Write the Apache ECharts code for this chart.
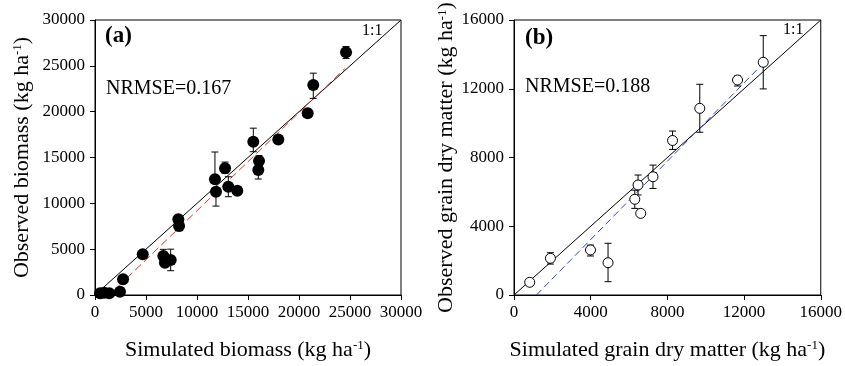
<!DOCTYPE html>
<html>
<head>
<meta charset="utf-8">
<script src="https://cdn.jsdelivr.net/npm/echarts@6/dist/echarts.min.js"></script>
<style>
  html, body { margin: 0; padding: 0; background: #fff; }
  #chart { width: 845px; height: 366px; }
</style>
</head>
<body>
<div id="chart"></div>
<script>
// panel (a): biomass
const simA = [500, 900, 1400, 2450, 2750, 4680, 6700, 6860, 7420, 8170, 8240, 11760, 11860, 12750, 13070, 13950, 15520, 16080, 16010, 17970, 20850, 21400, 24610];
const obsA = [200, 250, 200, 360, 1710, 4440, 4250, 3520, 3820, 8260, 7530, 12620, 11270, 13820, 11810, 11380, 16720, 14620, 13640, 16960, 19820, 22910, 26480];
// error bars (a): [sim, low, high]
const errA = [
  [4680, 4150, 4750],
  [6700, 4250, 4980],
  [7420, 2650, 5000],
  [8170, 8260, 8620],
  [8240, 7010, 7530],
  [11760, 12620, 15600],
  [11860, 9700, 11270],
  [12750, 13280, 14500],
  [13070, 10720, 12900],
  [15520, 15630, 18200],
  [16080, 14620, 15200],
  [16010, 12650, 13640],
  [17970, 16650, 17300],
  [20850, 19450, 20200],
  [21400, 21450, 24200],
  [24610, 25800, 27100]
];
const regA = [[1400, 0], [24500, 24700]];
const oneToOneA = [[0, 0], [30000, 30000]];

// panel (b): grain dry matter
const simB = [820, 1900, 3990, 4905, 6300, 6470, 6610, 7250, 8270, 9690, 11660, 13000];
const obsB = [740, 2135, 2620, 1880, 5570, 6400, 4750, 6880, 8990, 10860, 12510, 13540];
const errB = [
  [1900, 1800, 2460],
  [3990, 2270, 2900],
  [4905, 775, 3010],
  [6300, 5040, 6100],
  [6470, 5820, 6980],
  [7250, 6200, 7560],
  [8270, 8470, 9540],
  [9690, 9470, 12260],
  [11660, 12160, 12740],
  [13000, 11990, 15090]
];
const regB = [[1170, 0], [13000, 13480]];
const oneToOneB = [[0, 0], [16000, 16000]];

const FONT = '"Liberation Serif", "Times New Roman", serif';

const pairs = (xs, ys) => xs.map((x, i) => [x, ys[i]]);

function errorBars(params, api) {
  const x = api.value(0);
  const lo = api.coord([x, api.value(1)]);
  const hi = api.coord([x, api.value(2)]);
  const cap = 3.5;
  const style = { stroke: '#000', lineWidth: 1 };
  return {
    type: 'group',
    children: [
      { type: 'line', shape: { x1: lo[0], y1: lo[1], x2: hi[0], y2: hi[1] }, style },
      { type: 'line', shape: { x1: lo[0] - cap, y1: lo[1], x2: lo[0] + cap, y2: lo[1] }, style },
      { type: 'line', shape: { x1: hi[0] - cap, y1: hi[1], x2: hi[0] + cap, y2: hi[1] }, style }
    ]
  };
}

const nameStyle = {
  fontFamily: FONT,
  fontSize: 22,
  color: '#000',
  rich: {
    sup: { fontFamily: FONT, fontSize: 13, color: '#000', verticalAlign: 'top', lineHeight: 13 }
  }
};

function valueAxis(max, interval, name, gap, isY) {
  return {
    type: 'value',
    min: 0,
    max,
    interval,
    name,
    nameLocation: 'middle',
    nameGap: gap,
    nameTextStyle: nameStyle,
    axisLine: { show: true, lineStyle: { color: '#000', width: 1 } },
    axisTick: { show: true, inside: false, length: 5, lineStyle: { color: '#000' } },
    axisLabel: {
      color: '#000', fontFamily: FONT, fontSize: 17, margin: isY ? 10 : 9,
      formatter: v => String(v)
    },
    splitLine: { show: false }
  };
}

const chart = echarts.init(document.getElementById('chart'));

const option = {
  animation: false,
  backgroundColor: '#fff',
  grid: [
    { left: 95, top: 20, width: 306, height: 275, show: true, borderColor: '#000', borderWidth: 1 },
    { left: 514, top: 20, width: 307, height: 275, show: true, borderColor: '#000', borderWidth: 1 }
  ],
  xAxis: [
    Object.assign(valueAxis(30000, 5000, 'Simulated biomass (kg ha{sup|-1})', 44, false), { gridIndex: 0 }),
    Object.assign(valueAxis(16000, 4000, 'Simulated grain dry matter (kg ha{sup|-1})', 44, false), { gridIndex: 1 })
  ],
  yAxis: [
    Object.assign(valueAxis(30000, 5000, 'Observed biomass (kg ha{sup|-1})', 62, true), { gridIndex: 0 }),
    Object.assign(valueAxis(16000, 4000, 'Observed grain dry matter (kg ha{sup|-1})', 49, true), { gridIndex: 1 })
  ],
  graphic: [
    { type: 'text', left: 105, top: 25, style: { text: '(a)', font: 'bold 23px ' + FONT, fill: '#000' } },
    { type: 'text', left: 106, top: 79, style: { text: 'NRMSE=0.167', font: '20px ' + FONT, fill: '#000' } },
    { type: 'text', left: 362, top: 23, style: { text: '1:1', font: '16px ' + FONT, fill: '#000' } },
    { type: 'text', left: 525, top: 27, style: { text: '(b)', font: 'bold 23px ' + FONT, fill: '#000' } },
    { type: 'text', left: 525, top: 77, style: { text: 'NRMSE=0.188', font: '20px ' + FONT, fill: '#000' } },
    { type: 'text', left: 783, top: 22, style: { text: '1:1', font: '16px ' + FONT, fill: '#000' } }
  ],
  series: [
    // panel (a)
    {
      type: 'line', xAxisIndex: 0, yAxisIndex: 0, data: oneToOneA,
      showSymbol: false, lineStyle: { color: '#000', width: 1 }, z: 1
    },
    {
      type: 'line', xAxisIndex: 0, yAxisIndex: 0, data: regA,
      showSymbol: false, lineStyle: { color: '#e0302f', width: 1, type: [8, 4] }, z: 1
    },
    {
      type: 'custom', xAxisIndex: 0, yAxisIndex: 0, data: errA,
      encode: { x: 0, y: [1, 2] }, renderItem: errorBars, z: 2
    },
    {
      type: 'scatter', xAxisIndex: 0, yAxisIndex: 0, data: pairs(simA, obsA),
      symbol: 'circle', symbolSize: 12, itemStyle: { color: '#000', opacity: 1 }, z: 3
    },
    // panel (b)
    {
      type: 'line', xAxisIndex: 1, yAxisIndex: 1, data: oneToOneB,
      showSymbol: false, lineStyle: { color: '#000', width: 1 }, z: 1
    },
    {
      type: 'line', xAxisIndex: 1, yAxisIndex: 1, data: regB,
      showSymbol: false, lineStyle: { color: '#2f3fe0', width: 1, type: [7, 4] }, z: 1
    },
    {
      type: 'custom', xAxisIndex: 1, yAxisIndex: 1, data: errB,
      encode: { x: 0, y: [1, 2] }, renderItem: errorBars, z: 2
    },
    {
      type: 'scatter', xAxisIndex: 1, yAxisIndex: 1, data: pairs(simB, obsB),
      symbol: 'circle', symbolSize: 10,
      itemStyle: { color: '#fff', borderColor: '#000', borderWidth: 1, opacity: 1 }, z: 3
    }
  ]
};

chart.setOption(option);
</script>
</body>
</html>
